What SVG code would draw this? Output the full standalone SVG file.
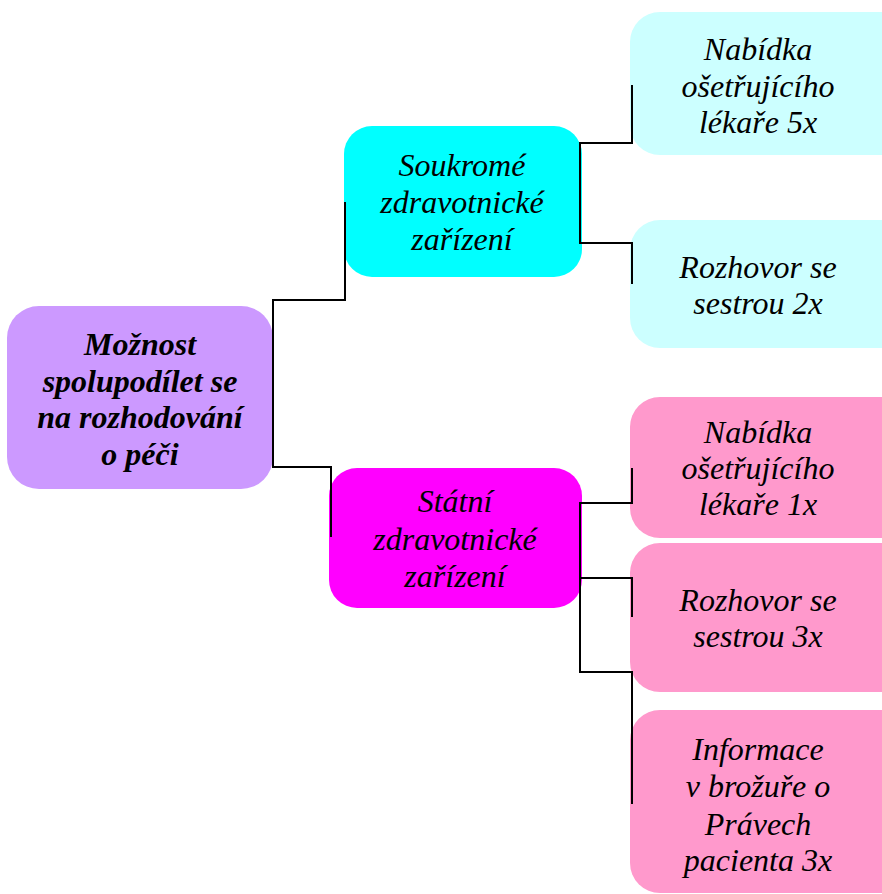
<svg xmlns="http://www.w3.org/2000/svg" width="882" height="894" viewBox="0 0 882 894">
  <style>
    .t { font-family: "Times New Roman", "Liberation Serif", Times, serif; font-style: italic; font-size: 32px; fill: #000; text-anchor: middle; }
    .b { font-weight: bold; }
    .ln { fill: none; stroke: #000; stroke-width: 2; }
  </style>
  <rect width="882" height="894" fill="#fff"/>

  <g id="root">
    <rect x="7" y="306" width="266" height="183" rx="32" fill="#CC99FF"/>
    <text class="t b" x="140" y="355">Možnost</text>
    <text class="t b" x="140" y="392">spolupodílet se</text>
    <text class="t b" x="140" y="428">na rozhodování</text>
    <text class="t b" x="140" y="465">o péči</text>
  </g>

  <g id="soukrome">
    <rect x="344" y="126" width="238" height="151" rx="28" fill="#00FFFF"/>
    <text class="t" x="462" y="176">Soukromé</text>
    <text class="t" x="462" y="213">zdravotnické</text>
    <text class="t" x="462" y="250">zařízení</text>
  </g>

  <g id="statni">
    <rect x="329" y="468" width="253" height="140" rx="28" fill="#FF00FF"/>
    <text class="t" x="455" y="512">Státní</text>
    <text class="t" x="455" y="550">zdravotnické</text>
    <text class="t" x="455" y="587">zařízení</text>
  </g>

  <g id="s-nabidka">
    <rect x="630" y="12" width="280" height="143" rx="30" fill="#CCFFFF"/>
    <text class="t" x="758" y="60">Nabídka</text>
    <text class="t" x="758" y="97">ošetřujícího</text>
    <text class="t" x="758" y="133">lékaře 5x</text>
  </g>

  <g id="s-rozhovor">
    <rect x="630" y="220" width="280" height="128" rx="30" fill="#CCFFFF"/>
    <text class="t" x="758" y="278">Rozhovor se</text>
    <text class="t" x="758" y="314">sestrou 2x</text>
  </g>

  <g id="p-nabidka">
    <rect x="630" y="397" width="280" height="141" rx="30" fill="#FF99CC"/>
    <text class="t" x="758" y="443">Nabídka</text>
    <text class="t" x="758" y="479">ošetřujícího</text>
    <text class="t" x="758" y="515">lékaře 1x</text>
  </g>

  <g id="p-rozhovor">
    <rect x="630" y="543" width="280" height="149" rx="30" fill="#FF99CC"/>
    <text class="t" x="758" y="611">Rozhovor se</text>
    <text class="t" x="758" y="647">sestrou 3x</text>
  </g>

  <g id="p-informace">
    <rect x="630" y="710" width="280" height="183" rx="30" fill="#FF99CC"/>
    <text class="t" x="758" y="760">Informace</text>
    <text class="t" x="758" y="797">v brožuře o</text>
    <text class="t" x="758" y="835">Právech</text>
    <text class="t" x="758" y="871">pacienta 3x</text>
  </g>

  <!-- elbow connectors, drawn over the box edges -->
  <g id="connectors">
    <path class="ln" d="M345 202 V300 H273 V467 H331 V537"/>
    <path class="ln" d="M632 85 V143 H580 V243 H632 V284"/>
    <path class="ln" d="M632 468 V503 H580 V672 H632 V804"/>
    <path class="ln" d="M580 578 H632 V617"/>
  </g>
</svg>
